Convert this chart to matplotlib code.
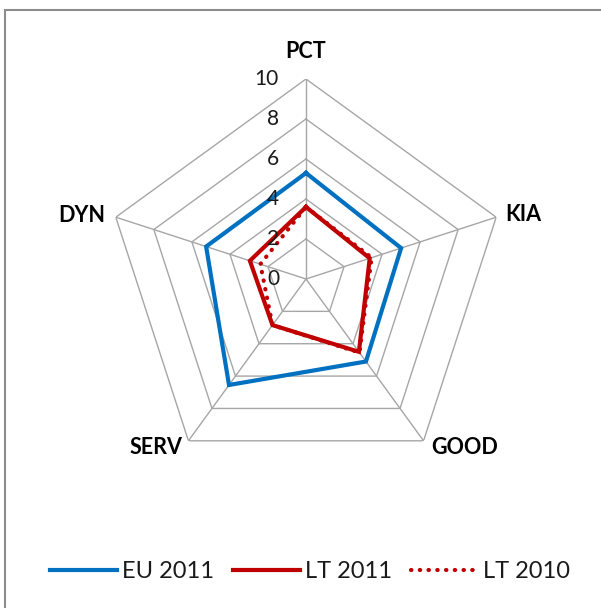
import numpy as np
import matplotlib
matplotlib.use("Agg")
import matplotlib.pyplot as plt
from matplotlib.lines import Line2D
from matplotlib.patches import Rectangle

categories = ["PCT", "KIA", "GOOD", "SERV", "DYN"]
eu_2011 = [5.3, 5.0, 5.1, 6.55, 5.25]
lt_2011 = [3.6, 3.35, 4.5, 2.85, 2.95]
lt_2010 = [3.6, 3.45, 4.55, 2.85, 2.4]
ticks = [0, 2, 4, 6, 8, 10]

plt.rcParams['font.family'] = ['Lato', 'DejaVu Sans']

W, H = 601, 608
fig = plt.figure(figsize=(W / 100, H / 100), dpi=100)
cx, cy, R = 306, 279, 200
ax = fig.add_axes([(cx - R) / W, (H - cy - R) / H, 2 * R / W, 2 * R / H], projection='polar')
ax.set_theta_offset(np.pi / 2)
ax.set_theta_direction(-1)
ax.set_ylim(0, 10)
ax.grid(False)
ax.spines['polar'].set_visible(False)
ax.set_xticks([])
ax.set_yticks([])
ax.patch.set_alpha(0)

n = len(categories)
theta = np.arange(n) * 2 * np.pi / n
theta_c = np.append(theta, theta[0])

grid_col = '#a6a6a6'
for t in ticks[1:]:
    ax.plot(theta_c, [t] * (n + 1), color=grid_col, lw=1.0, zorder=1)
for th in theta:
    ax.plot([th, th], [0, 10], color=grid_col, lw=1.0, zorder=1)

def closed(v):
    return list(v) + [v[0]]

ax.plot(theta_c, closed(eu_2011), color='#0070c0', lw=3.0, zorder=3, solid_joinstyle='miter')
ax.plot(theta_c, closed(lt_2011), color='#c00000', lw=3.0, zorder=4, solid_joinstyle='miter')
ax.plot(theta_c, closed(lt_2010), color='#c00000', lw=3.0, zorder=5,
        linestyle=(0, (0.1, 2.0)), dash_capstyle='round')

for t in ticks:
    ax.annotate(str(t), xy=(0, t), xytext=(-27, 0), textcoords='offset pixels',
                ha='right', va='center', fontsize=15, color='#1a1a1a', zorder=6)

label_off = {"PCT": (0, 28, 'center', 'center'),
             "KIA": (9, 3, 'left', 'center'),
             "GOOD": (8, -7, 'left', 'center'),
             "SERV": (-6, -7, 'right', 'center'),
             "DYN": (-11, 2, 'right', 'center')}
for th, c in zip(theta, categories):
    dx, dy, ha, va = label_off[c]
    ax.annotate(c, xy=(th, 10), xytext=(dx, dy), textcoords='offset pixels',
                ha=ha, va=va, fontsize=15.5, fontweight='bold', color='#000000')

# outer chart border
fig.patches.append(Rectangle((5 / W, -0.1), 1.2, (H - 10) / H + 0.1, transform=fig.transFigure,
                             fill=False, edgecolor='#8c8c8c', lw=1.5))

handles = [Line2D([], [], color='#0070c0', lw=3.0),
           Line2D([], [], color='#c00000', lw=3.0),
           Line2D([], [], color='#c00000', lw=3.0, linestyle=(0, (0.1, 2.0)), dash_capstyle='round')]
fig.legend(handles, ["EU 2011", "LT 2011", "LT 2010"], ncol=3, loc='center',
           bbox_to_anchor=(310 / W, 1 - 572 / H), frameon=False, fontsize=17,
           handlelength=2.85, handletextpad=0.2, columnspacing=0.8, labelcolor='#1a1a1a')

fig.savefig("out.png", dpi=100)
